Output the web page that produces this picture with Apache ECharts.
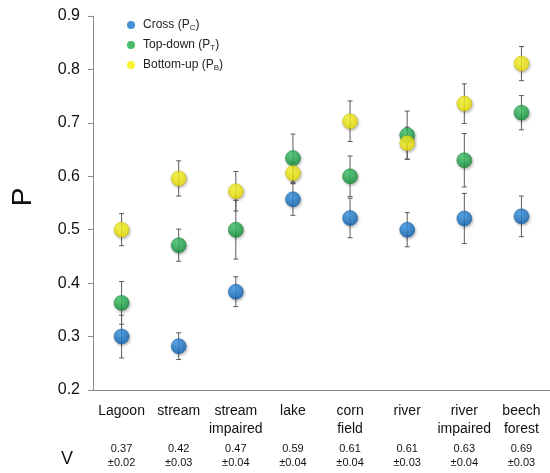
<!DOCTYPE html>
<html>
<head>
<meta charset="utf-8">
<script src="https://cdn.jsdelivr.net/npm/echarts@6/dist/echarts.min.js"></script>
<style>
  html, body { margin: 0; padding: 0; background: #fff; }
  #main { width: 550px; height: 473px; }
</style>
</head>
<body>
<div id="main"></div>
<script>
// categories (habitats) and V row
var categories = ['Lagoon', 'stream', 'stream\nimpaired', 'lake', 'corn\nfield', 'river', 'river\nimpaired', 'beech\nforest'];
var vMean = ['0.37', '0.42', '0.47', '0.59', '0.61', '0.61', '0.63', '0.69'];
var vErr = ['0.02', '0.03', '0.04', '0.04', '0.04', '0.03', '0.04', '0.03'];

// P values + error (half-length of bar)
var crossP = [0.300, 0.282, 0.384, 0.557, 0.522, 0.500, 0.521, 0.525];
var crossErr = [0.040, 0.025, 0.028, 0.030, 0.037, 0.032, 0.047, 0.038];
var topDownP = [0.363, 0.471, 0.500, 0.634, 0.600, 0.677, 0.630, 0.719];
var topDownErr = [0.040, 0.030, 0.055, 0.045, 0.038, 0.045, 0.050, 0.032];
var bottomUpP = [0.500, 0.596, 0.572, 0.606, 0.703, 0.662, 0.736, 0.811];
var bottomUpErr = [0.030, 0.033, 0.037, 0.020, 0.038, 0.030, 0.037, 0.032];

var seriesNames = ['Cross', 'Top-down', 'Bottom-up'];
var seriesSubs = ['C', 'T', 'B'];
var yTicks = { min: 0.2, max: 0.9, interval: 0.1 };

var font = "'Liberation Sans', Arial, sans-serif";

function ball(light, dark) {
    return new echarts.graphic.RadialGradient(0.4, 0.3, 0.75, [
        { offset: 0, color: light },
        { offset: 1, color: dark }
    ]);
}

var styles = [
    { color: ball('#3d9ded', '#0b5fae'), border: '#0a5597', flat: '#1676cc' },
    { color: ball('#45cf70', '#0f8c36'), border: '#0d7a2e', flat: '#1aab48' },
    { color: ball('#ffff30', '#ecdf00'), border: '#bfae00', flat: '#f7f000' }
];

function errData(vals, errs) {
    return vals.map(function (v, i) {
        return [i, v - errs[i], v + errs[i]];
    });
}

function errSeries(vals, errs) {
    return {
        type: 'custom',
        z: 1,
        silent: true,
        encode: { x: 0, y: [1, 2] },
        data: errData(vals, errs),
        renderItem: function (params, api) {
            var lo = api.coord([api.value(0), api.value(1)]);
            var hi = api.coord([api.value(0), api.value(2)]);
            var w = 2.5;
            var st = { stroke: '#5a5a5a', lineWidth: 1 };
            return {
                type: 'group',
                children: [
                    { type: 'line', shape: { x1: lo[0], y1: lo[1], x2: hi[0], y2: hi[1] }, style: st },
                    { type: 'line', shape: { x1: lo[0] - w, y1: lo[1], x2: lo[0] + w, y2: lo[1] }, style: st },
                    { type: 'line', shape: { x1: hi[0] - w, y1: hi[1], x2: hi[0] + w, y2: hi[1] }, style: st }
                ]
            };
        }
    };
}

function dotSeries(idx, vals) {
    return {
        name: seriesNames[idx],
        type: 'scatter',
        z: 2 + idx,
        symbolSize: 15,
        data: vals,
        itemStyle: {
            color: styles[idx].color,
            borderColor: styles[idx].border,
            borderWidth: 0.6,
            shadowBlur: 3,
            shadowColor: 'rgba(0,0,0,0.35)',
            shadowOffsetX: 1,
            shadowOffsetY: 1.5
        }
    };
}

var chart = echarts.init(document.getElementById('main'));

var option = {
    animation: false,
    textStyle: { fontFamily: font },
    grid: { left: 93, top: 16, bottom: 83, width: 462 },
    legend: {
        orient: 'vertical',
        left: 122,
        top: 14,
        itemGap: 7,
        itemWidth: 14,
        itemHeight: 8,
        icon: 'circle',
        data: seriesNames.map(function (n, i) {
            return { name: n, itemStyle: { color: styles[i].flat, borderWidth: 0, shadowBlur: 0, shadowOffsetX: 0, shadowOffsetY: 0 } };
        }),
        textStyle: {
            fontSize: 12,
            color: '#222',
            rich: { s: { fontSize: 8, verticalAlign: 'bottom', padding: [6, 0, 0, 0], color: '#222' } }
        },
        formatter: function (name) {
            var i = seriesNames.indexOf(name);
            return name + ' (P{s|' + seriesSubs[i] + '})';
        }
    },
    xAxis: [{
        type: 'category',
        data: categories,
        boundaryGap: true,
        axisLine: { lineStyle: { color: '#8a8a8a' } },
        axisTick: { length: 5, lineStyle: { color: '#8a8a8a' } },
        axisLabel: { fontSize: 14, color: '#111', lineHeight: 18, margin: 12, interval: 0 }
    }, {
        type: 'category',
        position: 'bottom',
        offset: 52,
        data: vMean.map(function (m, i) { return m + '\n\u00b1' + vErr[i]; }),
        axisLine: { show: false },
        axisTick: { show: false },
        axisLabel: { fontSize: 11, color: '#111', lineHeight: 14, margin: 0, interval: 0 },
        name: 'V',
        nameLocation: 'start',
        nameGap: 20,
        nameTextStyle: { fontSize: 18, color: '#111', verticalAlign: 'top', padding: [8, 0, 0, 0] }
    }],
    yAxis: {
        type: 'value',
        min: yTicks.min,
        max: yTicks.max,
        interval: yTicks.interval,
        splitLine: { show: false },
        axisLine: { show: true, lineStyle: { color: '#8a8a8a' } },
        axisTick: { show: true, length: 5, lineStyle: { color: '#8a8a8a' } },
        axisLabel: { fontSize: 16, color: '#111', margin: 13, formatter: function (v) { return v.toFixed(1); } },
        name: 'P',
        nameLocation: 'middle',
        nameGap: 56,
        nameTextStyle: { fontSize: 28, color: '#111', padding: [0, 0, 0, 12] }
    },
    series: [
        errSeries(crossP, crossErr),
        errSeries(topDownP, topDownErr),
        errSeries(bottomUpP, bottomUpErr),
        dotSeries(0, crossP),
        dotSeries(1, topDownP),
        dotSeries(2, bottomUpP)
    ]
};

chart.setOption(option);
</script>
</body>
</html>
